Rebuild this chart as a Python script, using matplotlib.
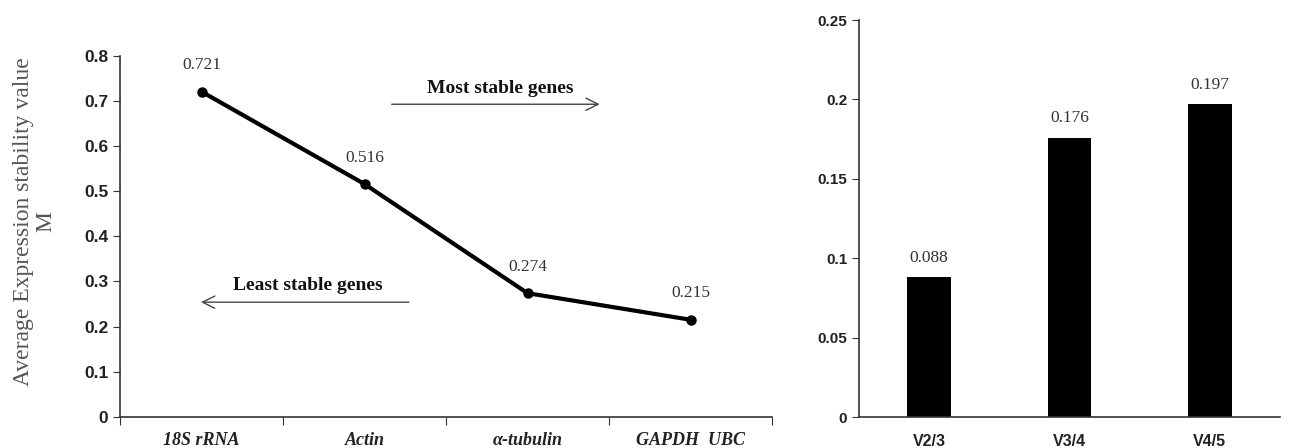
import matplotlib.pyplot as plt
import numpy as np

# data
genes = ['18S rRNA', 'Actin', 'α-tubulin', 'GAPDH  UBC']
m_values = [0.721, 0.516, 0.274, 0.215]

pairs = ['V2/3', 'V3/4', 'V4/5']
v_values = [0.088, 0.176, 0.197]

serif = ['Liberation Serif', 'DejaVu Serif']
sans = ['Liberation Sans', 'DejaVu Sans']

fig = plt.figure(figsize=(13.11, 4.48), dpi=100)

# left panel: geNorm M values
ax1 = fig.add_axes([120/1311, 1-416.7/448, (772-120)/1311, (416.7-56)/448])
x = np.arange(len(genes))
ax1.plot(x, m_values, color='black', lw=3, marker='o', ms=6.5)
for xi, v in zip(x, m_values):
    ax1.annotate('%.3f' % v, (xi, v), xytext=(0, 19), textcoords='offset points',
                 ha='center', va='center', fontsize=12.5, family=serif, color='#333333')

ax1.set_xlim(-0.5, 3.5)
ax1.set_ylim(0, 0.8)
ax1.set_yticks(np.arange(0, 0.81, 0.1))
ax1.set_yticklabels(['0'] + ['%.1f' % t for t in np.arange(0.1, 0.81, 0.1)])
ax1.set_xticks(np.arange(-0.5, 3.6, 1))
ax1.set_xticklabels([])
ax1.set_xticks(x, minor=True)
ax1.set_xticklabels(genes, minor=True, family=serif, style='italic',
                    fontweight='bold', fontsize=13, color='#222222')
ax1.tick_params(axis='x', which='minor', length=0, pad=11)
ax1.tick_params(axis='x', which='major', length=6, color='#333333')
ax1.tick_params(axis='y', length=5, color='#333333', labelsize=12.5, labelcolor='#222222')
for lab in ax1.get_yticklabels():
    lab.set_family(sans)
    lab.set_fontweight('bold')
for s in ['top', 'right']:
    ax1.spines[s].set_visible(False)
for s in ['left', 'bottom']:
    ax1.spines[s].set_color('#333333')
    ax1.spines[s].set_linewidth(1.2)

ax1.set_ylabel('Average Expression stability value\nM', family=serif, fontsize=17,
               color='#555555', linespacing=1.1)
ax1.yaxis.set_label_coords(-0.097, 0.54)

# stability arrows
ax1.annotate('', xy=(2.46, 0.693), xytext=(1.15, 0.693),
             arrowprops=dict(arrowstyle='->', color='#444444', lw=1, mutation_scale=22))
ax1.text(1.83, 0.729, 'Most stable genes', ha='center', va='center',
         family=serif, fontweight='bold', fontsize=14, color='#111111')
ax1.annotate('', xy=(-0.02, 0.254), xytext=(1.29, 0.254),
             arrowprops=dict(arrowstyle='->', color='#444444', lw=1, mutation_scale=22))
ax1.text(0.65, 0.292, 'Least stable genes', ha='center', va='center',
         family=serif, fontweight='bold', fontsize=14, color='#111111')

# right panel: pairwise variation
ax2 = fig.add_axes([859/1311, 1-417/448, (1280-859)/1311, (417-20)/448])
xb = np.arange(len(pairs))
ax2.bar(xb, v_values, width=0.31, color='black')
for xi, v in zip(xb, v_values):
    ax2.annotate('%.3f' % v, (xi, v), xytext=(0, 14), textcoords='offset points',
                 ha='center', va='center', fontsize=12.5, family=serif, color='#333333')
ax2.set_xlim(-0.5, 2.5)
ax2.set_ylim(0, 0.25)
ax2.set_yticks([0, 0.05, 0.1, 0.15, 0.2, 0.25])
ax2.set_yticklabels(['0', '0.05', '0.1', '0.15', '0.2', '0.25'])
ax2.set_xticks(xb)
ax2.set_xticklabels(pairs, family=sans, fontweight='bold', fontsize=11.5, color='#222222')
ax2.tick_params(axis='x', length=0, pad=12)
ax2.tick_params(axis='y', length=5, color='#333333', labelsize=11, labelcolor='#222222')
for lab in ax2.get_yticklabels():
    lab.set_family(sans)
    lab.set_fontweight('bold')
for s in ['top', 'right']:
    ax2.spines[s].set_visible(False)
for s in ['left', 'bottom']:
    ax2.spines[s].set_color('#333333')
    ax2.spines[s].set_linewidth(1.2)

plt.savefig('out.png', dpi=100)
